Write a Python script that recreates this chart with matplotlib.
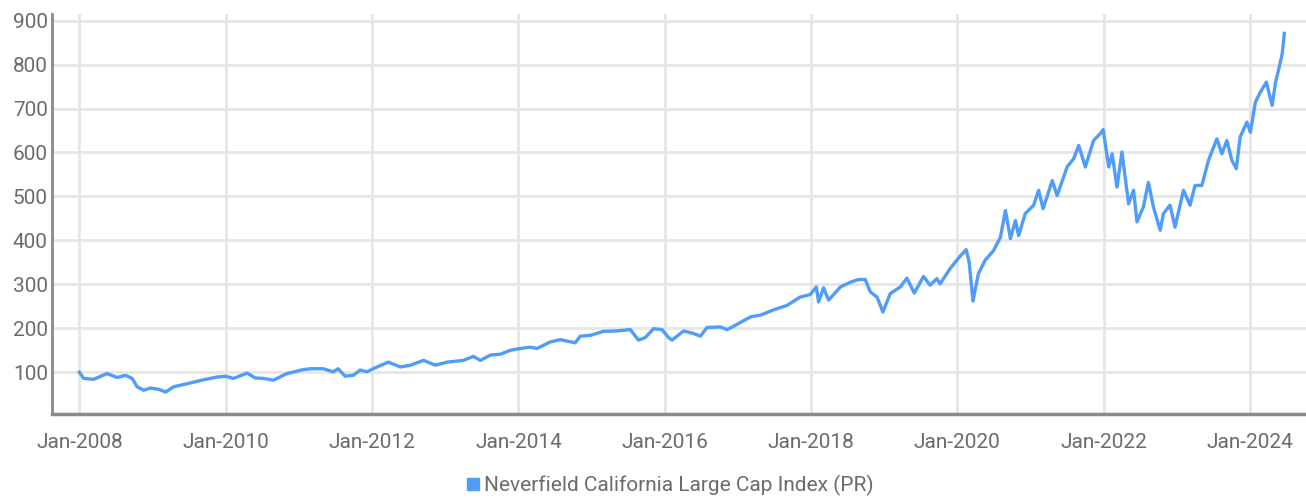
import matplotlib
matplotlib.use("Agg")
import matplotlib.pyplot as plt
import matplotlib.dates as mdates
import pandas as pd

series_name = "Neverfield California Large Cap Index (PR)"

dates = [
    "2008-01-01", "2008-01-22", "2008-03-12", "2008-05-18", "2008-07-07", "2008-08-18",
    "2008-09-20", "2008-10-15", "2008-11-17", "2008-12-20", "2009-02-01", "2009-03-06",
    "2009-04-16", "2009-06-22", "2009-09-13", "2009-11-18", "2010-01-01", "2010-02-08",
    "2010-04-17", "2010-05-28", "2010-07-07", "2010-08-27", "2010-11-02", "2011-01-23",
    "2011-02-27", "2011-05-02", "2011-06-21", "2011-07-16", "2011-08-20", "2011-09-29",
    "2011-11-03", "2011-12-06", "2012-01-26", "2012-03-23", "2012-05-22", "2012-07-11",
    "2012-09-14", "2012-11-13", "2013-01-10", "2013-04-01", "2013-05-21", "2013-06-25",
    "2013-08-14", "2013-10-03", "2013-11-22", "2014-01-11", "2014-03-01", "2014-04-04",
    "2014-06-09", "2014-07-29", "2014-10-12", "2014-11-06", "2014-12-26", "2015-03-01",
    "2015-05-08", "2015-07-14", "2015-08-24", "2015-09-27", "2015-11-07", "2015-12-19",
    "2016-01-21", "2016-02-07", "2016-04-05", "2016-05-25", "2016-06-28", "2016-07-31",
    "2016-10-06", "2016-11-08", "2016-12-28", "2017-03-05", "2017-04-24", "2017-06-29",
    "2017-09-03", "2017-11-08", "2017-12-29", "2018-01-28", "2018-02-08", "2018-03-05",
    "2018-03-30", "2018-05-28", "2018-07-17", "2018-08-27", "2018-09-29", "2018-10-24",
    "2018-11-27", "2018-12-26", "2019-02-01", "2019-03-23", "2019-04-25", "2019-06-01",
    "2019-07-17", "2019-08-19", "2019-09-22", "2019-10-08", "2019-11-27", "2020-01-16",
    "2020-02-15", "2020-03-01", "2020-03-20", "2020-04-16", "2020-05-20", "2020-07-01",
    "2020-08-04", "2020-08-29", "2020-09-23", "2020-10-18", "2020-11-03", "2020-12-06",
    "2021-01-17", "2021-02-11", "2021-03-05", "2021-04-20", "2021-05-14", "2021-07-03",
    "2021-08-05", "2021-08-30", "2021-10-02", "2021-11-12", "2021-12-16", "2021-12-30",
    "2022-01-27", "2022-02-13", "2022-03-09", "2022-04-03", "2022-05-06", "2022-05-31",
    "2022-06-17", "2022-07-19", "2022-08-13", "2022-09-07", "2022-10-11", "2022-10-27",
    "2022-11-29", "2022-12-24", "2023-02-04", "2023-03-09", "2023-04-03", "2023-05-07",
    "2023-06-09", "2023-07-21", "2023-08-15", "2023-09-09", "2023-10-04", "2023-10-26",
    "2023-11-14", "2023-12-18", "2024-01-04", "2024-01-29", "2024-02-23", "2024-03-24",
    "2024-04-22", "2024-05-09", "2024-05-25", "2024-06-11", "2024-06-22",
]

values = [
    100, 86, 84, 97, 88, 93,
    86, 67, 59, 64, 61, 55,
    67, 74, 83, 89, 91, 86,
    98, 87, 86, 82, 97, 106,
    108, 108, 101, 108, 91, 93,
    105, 101, 112, 123, 112, 116,
    127, 116, 123, 127, 136, 127,
    139, 141, 150, 154, 157, 154,
    169, 174, 167, 182, 184, 193,
    194, 197, 173, 179, 199, 197,
    179, 173, 194, 188, 182, 202,
    203, 197, 209, 226, 230, 242,
    252, 271, 277, 294, 260, 292,
    264, 294, 305, 311, 311, 283,
    271, 237, 279, 294, 314, 280,
    318, 298, 313, 301, 336, 364,
    379, 350, 262, 324, 355, 377,
    407, 468, 404, 445, 411, 461,
    480, 514, 472, 536, 502, 567,
    586, 616, 567, 627, 643, 652,
    567, 597, 521, 601, 483, 514,
    442, 476, 532, 476, 423, 461,
    480, 430, 514, 480, 525, 525,
    582, 631, 597, 627, 582, 563,
    635, 669, 646, 714, 737, 760,
    707, 760, 790, 824, 871,
]

y_ticks = [100, 200, 300, 400, 500, 600, 700, 800, 900]
x_tick_dates = ["2008-01-01", "2010-01-01", "2012-01-01", "2014-01-01", "2016-01-01",
                "2018-01-01", "2020-01-01", "2022-01-01", "2024-01-01"]

line_color = "#4f9cf9"
text_color = "#6b6b6b"
grid_color = "#e6e6e6"
spine_color = "#8a8a8a"

plt.rcParams["font.family"] = ["Roboto", "DejaVu Sans"]

fig = plt.figure(figsize=(13.06, 4.98), dpi=100)
ax = fig.add_axes([52 / 1306, 1 - 414 / 498, 1 - 52 / 1306, (414 - 14) / 498])

x = pd.to_datetime(dates)
ax.plot(x, values, color=line_color, lw=2.4, solid_joinstyle="round", label=series_name, zorder=3)

ax.set_ylim(5, 915)
ax.set_xlim(pd.Timestamp("2007-08-17"), pd.Timestamp("2024-10-08"))
ax.set_yticks(y_ticks)
ax.set_xticks(pd.to_datetime(x_tick_dates))
ax.xaxis.set_major_formatter(mdates.DateFormatter("%b-%Y"))

ax.grid(True, color=grid_color, lw=2.0, zorder=0)
ax.set_axisbelow(True)
for s in ["top", "right"]:
    ax.spines[s].set_visible(False)
ax.spines["left"].set_color(spine_color)
ax.spines["bottom"].set_color(spine_color)
ax.spines["left"].set_linewidth(2)
ax.spines["bottom"].set_linewidth(2.5)
ax.tick_params(axis="both", length=0, labelsize=15, labelcolor=text_color)
ax.tick_params(axis="x", pad=14)
ax.tick_params(axis="y", pad=3)

leg = fig.legend(handles=ax.get_lines(), labels=[series_name], loc="center",
                 bbox_to_anchor=(0.513, 0.025), frameon=False, fontsize=15,
                 handlelength=0.6, handletextpad=0.25, markerscale=1.0)
for h in leg.legend_handles:
    h.set_linestyle("none")
    h.set_marker("s")
    h.set_markersize(9)
    h.set_markerfacecolor(line_color)
    h.set_markeredgecolor(line_color)
for t in leg.get_texts():
    t.set_color(text_color)

fig.savefig("out.png", dpi=100)
